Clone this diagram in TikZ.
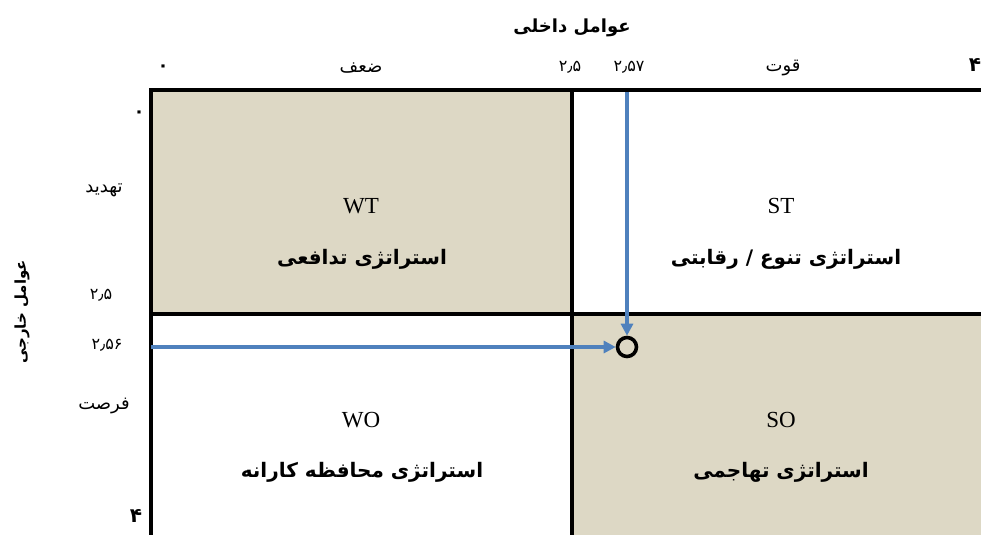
\documentclass[tikz,border=0pt]{standalone}
\usepackage{fontspec}
\setmainfont{Liberation Serif}
\newfontfamily\fa[Script=Arabic]{DejaVu Sans}
\TeXXeTstate=1
\usetikzlibrary{arrows.meta}
\definecolor{beige}{RGB}{221,216,197}
\definecolor{arrowblue}{RGB}{79,129,189}
\tikzset{
  frame/.style={line width=3.2pt, black},
  bluearrow/.style={line width=3.4pt, arrowblue, -{Triangle[length=12pt,width=12pt]}},
  quadcode/.style={font=\fontsize{23}{26}\selectfont},
  quadname/.style={font=\fa\bfseries\fontsize{20}{24}\selectfont},
  axistitle/.style={font=\fa\bfseries\fontsize{18}{22}\selectfont},
  sidetitle/.style={font=\fa\bfseries\fontsize{15}{18}\selectfont},
  ticklabel/.style={font=\fa\fontsize{18}{21}\selectfont},
  numlabel/.style={font=\fa\fontsize{16}{19}\selectfont},
  zerolabel/.style={font=\fa\bfseries\fontsize{18}{19}\selectfont},
  bignum/.style={font=\fa\bfseries\fontsize{20}{22}\selectfont},
}
\begin{document}
\begin{tikzpicture}[x=1pt,y=-1pt]
\useasboundingbox (0,0) rectangle (981,535);
% fills
\fill[beige] (151,90) rectangle (572,314);
\fill[beige] (572,314) rectangle (981,535);
% frame
\draw[frame] (981,90) -- (151,90) -- (151,535);
\draw[frame] (572,90) -- (572,535);
\draw[frame] (151,314) -- (981,314);
% axis titles
\node[axistitle] (tin) at (572,28) {\beginR عوامل داخلی\endR};
\node[sidetitle, rotate=90] (tex) at (22,312) {\beginR عوامل خارجی\endR};
% top ticks
\node[zerolabel] (t0) at (163,68) {۰};
\node[ticklabel] (tw) at (361,68) {\beginR ضعف\endR};
\node[numlabel] (t25) at (570,67) {۲٫۵};
\node[numlabel] (t257) at (629,67) {۲٫۵۷};
\node[ticklabel] (ts) at (783,68) {\beginR قوت\endR};
\node[bignum] (t4) at (975,65) {۴};
% left ticks
\node[zerolabel] (l0) at (139,114) {۰};
\node[ticklabel] (lt) at (104,190) {\beginR تهدید\endR};
\node[numlabel] (l25) at (101,295) {۲٫۵};
\node[numlabel] (l256) at (107,345) {۲٫۵۶};
\node[ticklabel] (lo) at (104,406) {\beginR فرصت\endR};
\node[bignum] (l4) at (136,516) {۴};
% quadrant labels
\node[quadcode] (wt) at (361,206) {WT};
\node[quadname] (wtn) at (362,259) {\beginR استراتژی تدافعی\endR};
\node[quadcode] (st) at (781,206) {ST};
\node[quadname] (stn) at (786,259) {\beginR استراتژی تنوع / رقابتی\endR};
\node[quadcode] (wo) at (361,420) {WO};
\node[quadname] (won) at (362,472) {\beginR استراتژی محافظه کارانه\endR};
\node[quadcode] (so) at (781,420) {SO};
\node[quadname] (son) at (781,472) {\beginR استراتژی تهاجمی\endR};
% point and arrows
\node[circle, draw=black, line width=3.6pt, minimum size=19pt, inner sep=0pt] (pt) at (627,347) {};
\coordinate (vstart) at (627,92);
\coordinate (hstart) at (151,347);
\draw[bluearrow] (vstart) -- (pt.north);
\draw[bluearrow] (hstart) -- (pt.west);
\end{tikzpicture}
\end{document}
